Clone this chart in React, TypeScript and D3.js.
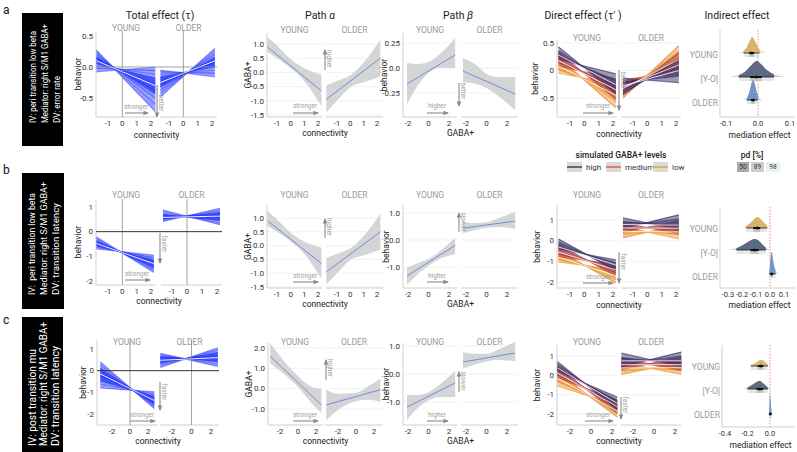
import React from 'react';
import * as d3 from 'd3';

type Pair = [number, number];

// ---------------------------------------------------------------- labels
const infoA = ['IV: peri transition low beta', 'Mediator: right S/M1 GABA+', 'DV: error rate'];
const infoB = ['IV:  peri transition low beta', 'Mediator: right S/M1 GABA+', 'DV: transition latency'];
const infoC = ['IV: post transition mu', 'Mediator: right S/M1 GABA+', 'DV: transition latency'];
const groups = ['YOUNG', '[Y-O]', 'OLDER'];
const gabaLevels = ['high', 'medium', 'low'];
const pdLevels = ['50', '89', '98'];

// tick values / labels
const ticksConn1 = [-1, 0, 1, 2];
const ticksConn2 = [-2, 0, 2];
const ticksGaba = [-2, 0, 2];
const ticksTotA = [-0.5, 0, 0.5];
const labsTotA = ['-0.5', '0.0', '0.5'];
const ticksInt = [-2, -1, 0, 1];
const labsInt = ['-2', '-1', '0', '1'];
const ticksAlphaAB = [-1.5, -1, -0.5, 0, 0.5, 1];
const labsAlphaAB = ['-1.5', '-1.0', '-0.5', '0.0', '0.5', '1.0'];
const ticksAlphaC = [-1, 0, 1, 2];
const labsAlphaC = ['-1.0', '0.0', '1.0', '2.0'];
const ticksBetaA = [-0.25, 0, 0.25];
const labsBetaA = ['-0.25', '0.0', '0.25'];
const ticksBetaBC = [-1, 0, 1];
const labsBetaBC = ['-1.0', '0.0', '1.0'];
const labsDirA = ['-0.5', '0', '0.5'];
const ticksMedA = [-0.1, 0, 0.1];
const labsMedA = ['-0.1', '0.0', '0.1'];
const ticksMedB = [-0.3, -0.2, -0.1, 0, 0.1];
const labsMedB = ['-0.3', '-0.2', '-0.1', '0.0', '0.1'];
const ticksMedC = [-0.4, -0.2, 0];
const labsMedC = ['-0.4', '-0.2', '0.0'];

// ---------------------------------------------------------------- total effect
// posterior draws, each [y at left end, y at right end]
const totAYoungX: Pair = [-1.8, 2.3];
const totAYoung: Pair[] = [[0.27, -0.72], [0.23, -0.6], [0.2, -0.5], [0.17, -0.44], [0.14, -0.38], [0.12, -0.33], [0.1, -0.28], [0.08, -0.24], [0.05, -0.18], [0.02, -0.12], [-0.02, -0.06], [-0.08, 0.0]];
const totAYoungMean: Pair = [0.1, -0.3];
const totAOlderX: Pair = [-1.6, 2.2];
const totAOlder: Pair[] = [[-0.48, 0.3], [-0.42, 0.25], [-0.37, 0.2], [-0.33, 0.16], [-0.29, 0.13], [-0.26, 0.1], [-0.23, 0.07], [-0.2, 0.04], [-0.16, 0.0], [-0.12, -0.05], [-0.08, -0.1], [-0.05, -0.16]];
const totAOlderMean: Pair = [-0.25, 0.1];

const totBYoungX: Pair = [-1.8, 2.2];
const totBYoung: Pair[] = [[-0.22, -1.65], [-0.3, -1.55], [-0.36, -1.47], [-0.42, -1.4], [-0.46, -1.33], [-0.5, -1.27], [-0.54, -1.2], [-0.58, -1.13], [-0.63, -1.05], [-0.7, -0.95]];
const totBYoungMean: Pair = [-0.48, -1.3];
const totBOlderX: Pair = [-1.6, 2.2];
const totBOlder: Pair[] = [[0.42, 0.95], [0.48, 0.85], [0.52, 0.78], [0.55, 0.72], [0.58, 0.67], [0.6, 0.63], [0.63, 0.58], [0.66, 0.52], [0.7, 0.45], [0.78, 0.35], [0.88, 0.28]];
const totBOlderMean: Pair = [0.58, 0.63];

const totCYoungX: Pair = [-3.3, 2.7];
const totCYoung: Pair[] = [[0.4, -1.75], [0.25, -1.65], [0.12, -1.57], [0.02, -1.5], [-0.08, -1.44], [-0.16, -1.38], [-0.25, -1.32], [-0.35, -1.25], [-0.48, -1.17], [-0.62, -1.08], [-0.8, -0.98]];
const totCYoungMean: Pair = [-0.15, -1.38];
const totCOlderX: Pair = [-3.2, 2.7];
const totCOlder: Pair[] = [[0.15, 1.05], [0.25, 0.95], [0.33, 0.85], [0.4, 0.77], [0.45, 0.7], [0.5, 0.64], [0.55, 0.57], [0.6, 0.5], [0.66, 0.42], [0.72, 0.32], [0.8, 0.2]];
const totCOlderMean: Pair = [0.48, 0.6];

// ---------------------------------------------------------------- path alpha (fit + 95% band)
const alphaYoungX = [-1.7, -1, 0, 1, 2.25];
const alphaYoungLo = [0.72, 0.5, 0.15, -0.3, -1.2];
const alphaYoungHi = [1.25, 0.95, 0.47, 0.15, -0.08];
const alphaYoungFit: Pair = [0.9, -0.65];
const alphaOlderX = [-1.8, -1, 0, 1, 2.25];
const alphaOlderLo = [-1.4, -1.0, -0.52, -0.35, -0.15];
const alphaOlderHi = [-0.45, -0.3, -0.1, 0.35, 1.15];
const alphaOlderFit: Pair = [-0.95, 0.5];

const alphaCYoungX = [-3.1, -2, 0, 1.5, 2.6];
const alphaCYoungLo = [1.25, 0.88, 0.08, -0.7, -1.2];
const alphaCYoungHi = [2.25, 1.6, 0.62, 0.1, 0.0];
const alphaCYoungFit: Pair = [1.6, -0.8];
const alphaCOlderX = [-3.3, -2, 0, 1.5, 2.7];
const alphaCOlderLo = [-1.55, -1.05, -0.62, -0.55, -0.65];
const alphaCOlderHi = [-0.05, -0.25, -0.2, 0.15, 0.5];
const alphaCOlderFit: Pair = [-0.8, -0.05];

// ---------------------------------------------------------------- path beta
const betaYoungX = [-2.1, -1, 0, 1, 2.6];
const betaOlderX = [-2.3, -1, 0, 1, 2.8];
const betaAYoungLo = [-0.36, -0.17, -0.05, 0.0, 0.0];
const betaAYoungHi = [0.05, 0.04, 0.06, 0.13, 0.3];
const betaAYoungFit: Pair = [-0.16, 0.13];
const betaAOlderLo = [-0.14, -0.16, -0.2, -0.27, -0.42];
const betaAOlderHi = [0.1, 0.03, -0.06, -0.09, -0.09];
const betaAOlderFit: Pair = [-0.03, -0.26];

const betaBYoungLo = [-1.67, -1.25, -0.95, -0.72, -0.52];
const betaBYoungHi = [-1.02, -0.85, -0.7, -0.45, 0.08];
const betaBYoungFit: Pair = [-1.33, -0.2];
const betaBOlderLo = [0.25, 0.38, 0.45, 0.48, 0.42];
const betaBOlderHi = [0.68, 0.63, 0.66, 0.78, 1.05];
const betaBOlderFit: Pair = [0.44, 0.7];

const betaCYoungLo = [-1.64, -1.2, -0.95, -0.82, -0.82];
const betaCYoungHi = [-0.75, -0.75, -0.65, -0.4, 0.12];
const betaCYoungFit: Pair = [-1.18, -0.32];
const betaCOlderLo = [0.2, 0.35, 0.45, 0.5, 0.45];
const betaCOlderHi = [0.78, 0.72, 0.72, 0.85, 1.15];
const betaCOlderFit: Pair = [0.43, 0.75];

// ---------------------------------------------------------------- direct effect (per simulated GABA+ level)
const dirAYoungX: Pair = [-1.8, 2.2];
const dirAYoungHigh: Pair[] = [[0.43, -0.42], [0.36, -0.33], [0.3, -0.26], [0.25, -0.18], [0.2, -0.06]];
const dirAYoungMed: Pair[] = [[0.33, -0.52], [0.26, -0.43], [0.2, -0.35], [0.14, -0.27], [0.08, -0.15]];
const dirAYoungLow: Pair[] = [[0.24, -0.68], [0.16, -0.56], [0.09, -0.45], [0.02, -0.36], [-0.05, -0.24]];
const dirAYoungMeans: Pair[] = [[0.28, -0.26], [0.18, -0.35], [0.08, -0.45]];
const dirAOlderX: Pair = [-1.7, 2.2];
const dirAOlderHigh: Pair[] = [[-0.42, 0.2], [-0.35, 0.1], [-0.28, 0.0], [-0.21, -0.1], [-0.14, -0.22]];
const dirAOlderMed: Pair[] = [[-0.45, 0.32], [-0.38, 0.22], [-0.31, 0.12], [-0.24, 0.03], [-0.16, -0.07]];
const dirAOlderLow: Pair[] = [[-0.5, 0.45], [-0.42, 0.35], [-0.35, 0.25], [-0.28, 0.15], [-0.2, 0.05]];
const dirAOlderMeans: Pair[] = [[-0.28, 0.0], [-0.3, 0.1], [-0.33, 0.2]];

const dirBYoungX: Pair = [-1.8, 2.2];
const dirBYoungHigh: Pair[] = [[0.08, -1.45], [-0.05, -1.33], [-0.18, -1.2], [-0.3, -1.07], [-0.42, -0.93]];
const dirBYoungMed: Pair[] = [[-0.2, -1.7], [-0.35, -1.56], [-0.5, -1.42], [-0.65, -1.28], [-0.78, -1.14]];
const dirBYoungLow: Pair[] = [[-0.48, -2.05], [-0.62, -1.9], [-0.78, -1.72], [-0.9, -1.55], [-1.03, -1.4]];
const dirBYoungMeans: Pair[] = [[-0.3, -1.18], [-0.55, -1.42], [-0.8, -1.7]];
const dirBOlderX: Pair = [-1.7, 2.2];
const dirBOlderHigh: Pair[] = [[0.6, 1.25], [0.7, 1.05], [0.8, 0.85], [0.92, 0.7], [1.1, 0.55]];
const dirBOlderMed: Pair[] = [[0.42, 0.95], [0.52, 0.78], [0.62, 0.62], [0.72, 0.48], [0.85, 0.35]];
const dirBOlderLow: Pair[] = [[0.15, 0.75], [0.3, 0.58], [0.42, 0.45], [0.55, 0.3], [0.68, 0.08]];
const dirBOlderMeans: Pair[] = [[0.78, 0.75], [0.62, 0.6], [0.45, 0.42]];

const dirCYoungX: Pair = [-3.2, 2.5];
const dirCYoungHigh: Pair[] = [[0.7, -1.75], [0.58, -1.6], [0.45, -1.45], [0.32, -1.3], [0.2, -1.12]];
const dirCYoungMed: Pair[] = [[0.42, -1.95], [0.3, -1.78], [0.15, -1.62], [0.02, -1.45], [-0.12, -1.3]];
const dirCYoungLow: Pair[] = [[0.15, -2.15], [0.0, -2.0], [-0.15, -1.85], [-0.3, -1.7], [-0.55, -1.55]];
const dirCYoungMeans: Pair[] = [[0.38, -1.45], [0.12, -1.62], [-0.14, -1.85]];
const dirCOlderX: Pair = [-3.1, 2.6];
const dirCOlderHigh: Pair[] = [[0.45, 1.2], [0.6, 1.0], [0.75, 0.8], [0.9, 0.62], [1.15, 0.45]];
const dirCOlderMed: Pair[] = [[0.3, 0.95], [0.42, 0.75], [0.55, 0.55], [0.7, 0.4], [0.9, 0.25]];
const dirCOlderLow: Pair[] = [[0.05, 0.7], [0.2, 0.55], [0.35, 0.4], [0.5, 0.25], [0.65, 0.05]];
const dirCOlderMeans: Pair[] = [[0.75, 0.75], [0.55, 0.55], [0.38, 0.4]];

// ---------------------------------------------------------------- indirect effect
// density outline [effect, relative density]; intervals [median, lo50, hi50, lo95, hi95]
const medAYoung: Pair[] = [[-0.07, 0], [-0.05, 0.1], [-0.035, 0.35], [-0.025, 0.8], [-0.018, 1], [-0.01, 0.75], [0, 0.35], [0.015, 0.1], [0.035, 0]];
const medAYO: Pair[] = [[-0.09, 0], [-0.06, 0.12], [-0.04, 0.35], [-0.02, 0.75], [-0.005, 1], [0.01, 0.8], [0.03, 0.4], [0.055, 0.12], [0.09, 0]];
const medAOlder: Pair[] = [[-0.045, 0], [-0.035, 0.1], [-0.027, 0.4], [-0.02, 0.85], [-0.015, 1], [-0.01, 0.8], [-0.003, 0.35], [0.005, 0.1], [0.015, 0]];
const medAInt = [[-0.02, -0.028, -0.012, -0.045, 0.005], [-0.005, -0.025, 0.012, -0.06, 0.05], [-0.015, -0.022, -0.01, -0.035, 0.0]];

const medBYoung: Pair[] = [[-0.22, 0], [-0.18, 0.12], [-0.14, 0.45], [-0.11, 0.85], [-0.09, 1], [-0.07, 0.85], [-0.04, 0.45], [-0.01, 0.1], [0.01, 0]];
const medBYO: Pair[] = [[-0.3, 0], [-0.25, 0.12], [-0.2, 0.4], [-0.15, 0.8], [-0.11, 1], [-0.08, 0.85], [-0.05, 0.45], [-0.02, 0.12], [0.01, 0]];
const medBOlder: Pair[] = [[-0.015, 0], [-0.005, 0.15], [0.002, 0.55], [0.008, 0.95], [0.013, 1], [0.02, 0.7], [0.03, 0.35], [0.045, 0.1], [0.06, 0]];
const medBInt = [[-0.09, -0.12, -0.07, -0.17, -0.02], [-0.11, -0.14, -0.08, -0.24, -0.03], [0.012, 0.005, 0.02, -0.005, 0.04]];

const medCYoung: Pair[] = [[-0.2, 0], [-0.16, 0.2], [-0.12, 0.6], [-0.09, 0.95], [-0.07, 1], [-0.05, 0.75], [-0.03, 0.4], [-0.01, 0.1], [0.005, 0]];
const medCYO: Pair[] = [[-0.25, 0], [-0.2, 0.2], [-0.15, 0.6], [-0.11, 0.95], [-0.09, 1], [-0.06, 0.7], [-0.03, 0.35], [-0.01, 0.1], [0.005, 0]];
const medCOlder: Pair[] = [[-0.012, 0], [-0.007, 0.2], [-0.003, 0.7], [0, 1], [0.004, 0.8], [0.008, 0.45], [0.013, 0.2], [0.02, 0.05], [0.03, 0]];
const medCInt = [[-0.08, -0.11, -0.06, -0.17, -0.02], [-0.09, -0.12, -0.06, -0.2, -0.02], [0.002, -0.002, 0.006, -0.008, 0.015]];

// ---------------------------------------------------------------- styles
const FONT = 'Roboto, "DejaVu Sans", Arial, sans-serif';
const AXC = '#cfcfcf';
const TXT = '#333';
const STRIP = '#9a9a9a';
const ARROW = '#8a8a8a';
const TICK_FS = 8;
const BLUE_FILL = '#1e30ff';
const BLUE_LINES = ['#0f1ff0', '#3344ff'];
const LEVEL_STYLE = [
  { fill: '#3b3468', strokes: ['#25265a', '#4b3a70', '#6a4478'] },
  { fill: '#b9404a', strokes: ['#8e3a62', '#c2413f', '#dc5a34'] },
  { fill: '#ec9c32', strokes: ['#e4782a', '#ee9a30', '#f4c443'] },
];
const LEGEND_LINES = ['#3c3f6e', '#e05a5a', '#e3a33a'];
const PD_FILLS = ['#a9a9a9', '#cdcdcd', '#eaf0f0'];
const GROUP_FILLS = ['#d9b46a', '#5d6b82', '#7295c4'];

const lin = (d0: number, d1: number, r0: number, r1: number) =>
  d3.scaleLinear().domain([d0, d1]).range([r0, r1]);

// ---------------------------------------------------------------- pieces
function Frame({ c }: any) {
  const sides = [c.young, c.older];
  const mid = (c.top + c.bottom) / 2;
  return (
    <g>
      {c.grid && sides.map((s: any, i: number) => c.yTicks.map((t: number) => (
        <line key={`g${i}_${t}`} x1={s.x0} x2={s.x1} y1={c.ys(t)} y2={c.ys(t)} stroke="#ededed" strokeWidth={0.8} />
      )))}
      <line x1={c.young.x0} x2={c.young.x0} y1={c.top} y2={c.bottom} stroke={AXC} />
      {sides.map((s: any, i: number) => (
        <line key={`b${i}`} x1={s.x0} x2={s.x1} y1={c.bottom} y2={c.bottom} stroke={AXC} />
      ))}
      {c.yTicks.map((t: number, i: number) => (
        <text key={`y${i}`} x={c.young.x0 - 3} y={c.ys(t)} dy="0.34em" textAnchor="end" fontSize={TICK_FS} fill={TXT}>{c.yLabs[i]}</text>
      ))}
      {sides.map((s: any, i: number) => c.xTicks.map((t: number) => (
        <text key={`x${i}_${t}`} x={s.sc(t)} y={c.bottom + 6} dy="0.34em" textAnchor="middle" fontSize={TICK_FS} fill={TXT}>{t}</text>
      )))}
      {[groups[0], groups[2]].map((g, i) => (
        <text key={g} x={(sides[i].x0 + sides[i].x1) / 2} y={c.strip} dy="0.35em" textAnchor="middle" fontSize={8.5} fill={STRIP}>{g}</text>
      ))}
      <text transform={`translate(${c.yTitleX},${mid}) rotate(-90)`} dy="0.35em" textAnchor="middle" fontSize={8.5} fill="#222">{c.yTitle}</text>
      <text x={(c.young.x0 + c.older.x1) / 2} y={c.xTitleY} dy="0.35em" textAnchor="middle" fontSize={8.5} fill="#222">{c.xTitle}</text>
    </g>
  );
}

function Fan({ lines, dom, xs, ys, fill, strokes, fillOp, coreOp, lineOp }: any) {
  const at = (l: Pair, x: number) => l[0] + (l[1] - l[0]) * (x - dom[0]) / (dom[1] - dom[0]);
  const grid = d3.range(0, 41).map((i) => dom[0] + (dom[1] - dom[0]) * i / 40);
  const envOf = (ls: Pair[]) => d3.area<number>()
    .x((x) => xs(x))
    .y0((x) => ys(d3.min(ls, (l) => at(l, x)) as number))
    .y1((x) => ys(d3.max(ls, (l) => at(l, x)) as number))(grid) || '';
  const n = lines.length;
  const k = Math.floor(n / 4);
  const core = (lines as Pair[]).slice(k, n - k);
  return (
    <g>
      <path d={envOf(lines)} fill={fill} opacity={fillOp} />
      <path d={envOf(core)} fill={fill} opacity={coreOp} />
      {(lines as Pair[]).map((l, i) => (
        <line key={i} x1={xs(dom[0])} y1={ys(l[0])} x2={xs(dom[1])} y2={ys(l[1])}
          stroke={strokes[i % strokes.length]} strokeWidth={1.2} opacity={lineOp} />
      ))}
    </g>
  );
}

function MeanLine({ m, dom, xs, ys, op = 0.9 }: any) {
  return <line x1={xs(dom[0])} y1={ys(m[0])} x2={xs(dom[1])} y2={ys(m[1])} stroke="#ffffff" strokeWidth={1} opacity={op} />;
}

function Ribbon({ x, lo, hi, fit, xs, ys }: any) {
  const area = d3.area<number>()
    .x((v) => xs(v))
    .y0((_, i) => ys(lo[i]))
    .y1((_, i) => ys(hi[i]))
    .curve(d3.curveMonotoneX);
  return (
    <g>
      <path d={area(x) || ''} fill="#d3d3d3" opacity={0.95} />
      <line x1={xs(x[0])} y1={ys(fit[0])} x2={xs(x[x.length - 1])} y2={ys(fit[1])} stroke="#6d8ce6" strokeWidth={1} />
    </g>
  );
}

function Arrow({ x1, y1, x2, y2, label, lx, ly, vert }: any) {
  return (
    <g>
      <line x1={x1} y1={y1} x2={x2} y2={y2} stroke={ARROW} strokeWidth={1.1} markerEnd="url(#ah)" />
      {vert ? (
        <text transform={`translate(${lx},${ly}) rotate(90)`} dy="0.35em" textAnchor="middle" fontSize={6.5} fill="#a0a0a0">{label}</text>
      ) : (
        <text x={lx} y={ly} textAnchor="middle" fontSize={6.5} fill="#a0a0a0">{label}</text>
      )}
    </g>
  );
}

function InfoBox({ x, y, w, h, lines, lx, start, lens, fs }: any) {
  return (
    <g>
      <rect x={x} y={y} width={w} height={h} fill="#000" />
      {lines.map((t: string, i: number) => (
        <text key={i} transform={`translate(${lx[i]},${start}) rotate(-90)`} dy="0.35em" fontSize={fs} fill="#fff"
          textLength={lens[i]} lengthAdjust="spacingAndGlyphs" xmlSpace="preserve">{t}</text>
      ))}
    </g>
  );
}

function HalfEye({ pts, base, h, color, xs, iv, id }: any) {
  const area = d3.area<Pair>().x((d) => xs(d[0])).y0(base).y1((d) => base - d[1] * h).curve(d3.curveMonotoneX);
  const [med, l50, h50, l95, h95] = iv;
  const d = area(pts) || '';
  return (
    <g>
      <clipPath id={id}><rect x={xs(l95)} y={base - h - 2} width={xs(h95) - xs(l95)} height={h + 4} /></clipPath>
      <path d={d} fill={color} opacity={0.35} />
      <path d={d} fill={color} clipPath={`url(#${id})`} />
      <rect x={xs(l95)} y={base + 0.5} width={xs(h95) - xs(l95)} height={3.5} fill="#e2eaea" />
      <rect x={xs(l50)} y={base + 0.5} width={xs(h50) - xs(l50)} height={3.5} fill="#c2c6c6" />
      <line x1={xs(l95)} x2={xs(h95)} y1={base} y2={base} stroke="#111" strokeWidth={0.8} />
      <line x1={xs(l50)} x2={xs(h50)} y1={base} y2={base} stroke="#111" strokeWidth={2} />
      <circle cx={xs(med)} cy={base} r={1.5} fill="#111" />
    </g>
  );
}

function Indirect({ c, dens, ints, id }: any) {
  return (
    <g>
      <line x1={c.x0} x2={c.x0} y1={c.top} y2={c.bottom} stroke={AXC} />
      <line x1={c.x0} x2={c.x1} y1={c.bottom} y2={c.bottom} stroke={AXC} />
      <line x1={c.xs(0)} x2={c.xs(0)} y1={c.top} y2={c.bottom} stroke="#e46a6a" strokeWidth={0.8} strokeDasharray="1.5,1.5" />
      {dens.map((p: Pair[], i: number) => (
        <HalfEye key={i} pts={p} base={c.bases[i]} h={c.heights[i]} color={GROUP_FILLS[i]} xs={c.xs} iv={ints[i]} id={`${id}${i}`} />
      ))}
      {groups.map((g, i) => (
        <text key={g} x={c.x0 - 2} y={c.labY[i]} dy="0.35em" textAnchor="end" fontSize={8.5} fill={STRIP}>{g}</text>
      ))}
      {c.ticks.map((t: number, i: number) => (
        <text key={i} x={c.xs(t)} y={c.bottom + 6} dy="0.35em" textAnchor="middle" fontSize={7.5} fill={TXT}>{c.labs[i]}</text>
      ))}
      <text x={(c.x0 + c.x1) / 2 + 2} y={c.titleY} dy="0.35em" textAnchor="middle" fontSize={8.5} fill="#222">mediation effect</text>
    </g>
  );
}

function TotalPanel({ c, yl, ym, yd, ol, om, od, zeroDark }: any) {
  const zc = zeroDark ? '#333' : '#8c8c8c';
  return (
    <g>
      <Frame c={c} />
      <Fan lines={yl} dom={yd} xs={c.young.sc} ys={c.ys} fill={BLUE_FILL} strokes={BLUE_LINES} fillOp={0.45} coreOp={0.65} lineOp={0.45} />
      <Fan lines={ol} dom={od} xs={c.older.sc} ys={c.ys} fill={BLUE_FILL} strokes={BLUE_LINES} fillOp={0.45} coreOp={0.65} lineOp={0.45} />
      <MeanLine m={ym} dom={yd} xs={c.young.sc} ys={c.ys} />
      <MeanLine m={om} dom={od} xs={c.older.sc} ys={c.ys} />
      {[c.young, c.older].map((s: any, i: number) => (
        <line key={i} x1={s.sc(0)} x2={s.sc(0)} y1={c.top} y2={c.bottom} stroke="#8c8c8c" strokeWidth={0.8} />
      ))}
      <line x1={c.young.x0} x2={c.older.x1} y1={c.ys(0)} y2={c.ys(0)} stroke={zc} strokeWidth={zeroDark ? 1 : 0.8} />
    </g>
  );
}

function DirectPanel({ c, young, yd, ymeans, older, od, omeans }: any) {
  return (
    <g>
      <Frame c={c} />
      {[2, 1, 0].map((k) => (
        <Fan key={`y${k}`} lines={young[k]} dom={yd} xs={c.young.sc} ys={c.ys} fill={LEVEL_STYLE[k].fill}
          strokes={LEVEL_STYLE[k].strokes} fillOp={0.5} coreOp={0.5} lineOp={0.65} />
      ))}
      {[2, 1, 0].map((k) => (
        <Fan key={`o${k}`} lines={older[k]} dom={od} xs={c.older.sc} ys={c.ys} fill={LEVEL_STYLE[k].fill}
          strokes={LEVEL_STYLE[k].strokes} fillOp={0.5} coreOp={0.5} lineOp={0.65} />
      ))}
      {ymeans.map((m: Pair, i: number) => <MeanLine key={`ym${i}`} m={m} dom={yd} xs={c.young.sc} ys={c.ys} op={0.8} />)}
      {omeans.map((m: Pair, i: number) => <MeanLine key={`om${i}`} m={m} dom={od} xs={c.older.sc} ys={c.ys} op={0.8} />)}
    </g>
  );
}

// ---------------------------------------------------------------- app
export default function App() {
  // ---- layouts, row a
  const totA = {
    young: { x0: 96, x1: 156, sc: lin(-1, 2, 108, 151) }, older: { x0: 160, x1: 217, sc: lin(-1, 2, 169, 212) },
    ys: lin(-0.5, 0.5, 98, 36), top: 31, bottom: 117, strip: 28, xTicks: ticksConn1, yTicks: ticksTotA, yLabs: labsTotA,
    yTitle: 'behavior', yTitleX: 78, xTitle: 'connectivity', xTitleY: 135,
  };
  const alA = {
    young: { x0: 267, x1: 322, sc: lin(-1, 2, 277, 318) }, older: { x0: 326, x1: 383, sc: lin(-1, 2, 337, 377) },
    ys: lin(-1.5, 1, 115, 44), top: 33, bottom: 117, strip: 30, xTicks: ticksConn1, yTicks: ticksAlphaAB, yLabs: labsAlphaAB,
    yTitle: 'GABA+', yTitleX: 248, xTitle: 'connectivity', xTitleY: 133, grid: true,
  };
  const beA = {
    young: { x0: 403, x1: 457, sc: lin(-2, 2, 408, 449) }, older: { x0: 461, x1: 518, sc: lin(-2, 2, 466, 507) },
    ys: lin(-0.25, 0.25, 93, 43), top: 33, bottom: 117, strip: 30, xTicks: ticksGaba, yTicks: ticksBetaA, yLabs: labsBetaA,
    yTitle: 'behavior', yTitleX: 384, xTitle: 'GABA+', xTitleY: 133, grid: true,
  };
  const diA = {
    young: { x0: 557, x1: 617, sc: lin(-1, 2, 570, 613) }, older: { x0: 621, x1: 681, sc: lin(-1, 2, 633, 676) },
    ys: lin(-0.5, 0.5, 98, 43), top: 40, bottom: 117, strip: 38, xTicks: ticksConn1, yTicks: ticksTotA, yLabs: labsDirA,
    yTitle: 'behavior', yTitleX: 535, xTitle: 'connectivity', xTitleY: 134, grid: true,
  };
  const inA = {
    x0: 720, x1: 795, xs: lin(-0.1, 0.1, 726, 790), top: 30, bottom: 117, ticks: ticksMedA, labs: labsMedA,
    bases: [53, 77, 100], heights: [16, 16, 20], labY: [55, 79, 103], titleY: 135,
  };
  // ---- row b
  const totB = {
    young: { x0: 96, x1: 156, sc: lin(-1, 2, 108, 151) }, older: { x0: 161, x1: 222, sc: lin(-1, 2, 172, 217) },
    ys: lin(-2, 1, 281, 207), top: 199, bottom: 285, strip: 195, xTicks: ticksConn1, yTicks: ticksInt, yLabs: labsInt,
    yTitle: 'behavior', yTitleX: 78, xTitle: 'connectivity', xTitleY: 301,
  };
  const alB = { ...alA, ys: lin(-1.5, 1, 287, 218), top: 205, bottom: 288, strip: 195, xTitleY: 304 };
  const beB = {
    ...beA, ys: lin(-1, 1, 267, 213), top: 205, bottom: 288, strip: 195, yTicks: ticksBetaBC, yLabs: labsBetaBC,
    yTitleX: 386, xTitleY: 304,
  };
  const diB = {
    ...diA, ys: lin(-2, 1, 282, 220), top: 205, bottom: 288, strip: 195, yTicks: ticksInt, yLabs: labsInt,
    yTitleX: 537, xTitleY: 305,
  };
  const inB = {
    x0: 720, x1: 795, xs: lin(-0.3, 0.1, 728, 784), top: 207, bottom: 288, ticks: ticksMedB, labs: labsMedB,
    bases: [228, 250, 274], heights: [11, 11, 22], labY: [229, 253, 277], titleY: 305,
  };
  // ---- row c
  const totC = {
    young: { x0: 97, x1: 157, sc: lin(-2, 2, 112, 148) }, older: { x0: 160, x1: 219, sc: lin(-2, 2, 172, 211) },
    ys: lin(-2, 1, 414, 349), top: 340, bottom: 425, strip: 342, xTicks: ticksConn2, yTicks: ticksInt, yLabs: labsInt,
    yTitle: 'behavior', yTitleX: 83, xTitle: 'connectivity', xTitleY: 441,
  };
  const alC = {
    young: { x0: 268, x1: 322, sc: lin(-2, 2, 280, 316) }, older: { x0: 325, x1: 383, sc: lin(-2, 2, 338, 374) },
    ys: lin(-1, 2, 409, 348), top: 343, bottom: 425, strip: 342, xTicks: ticksConn2, yTicks: ticksAlphaC, yLabs: labsAlphaC,
    yTitle: 'GABA+', yTitleX: 249, xTitle: 'connectivity', xTitleY: 441, grid: true,
  };
  const beC = {
    ...beA, ys: lin(-1, 1, 402, 346), top: 343, bottom: 425, strip: 342, yTicks: ticksBetaBC, yLabs: labsBetaBC,
    yTitleX: 386, xTitleY: 441,
  };
  const diC = {
    young: { x0: 557, x1: 617, sc: lin(-2, 2, 570, 612) }, older: { x0: 621, x1: 681, sc: lin(-2, 2, 633, 675) },
    ys: lin(-2, 1, 414, 356), top: 345, bottom: 425, strip: 342, xTicks: ticksConn2, yTicks: ticksInt, yLabs: labsInt,
    yTitle: 'behavior', yTitleX: 537, xTitle: 'connectivity', xTitleY: 441, grid: true,
  };
  const inC = {
    x0: 722, x1: 795, xs: lin(-0.4, 0, 725, 770), top: 345, bottom: 427, ticks: ticksMedC, labs: labsMedC,
    bases: [366, 389, 414], heights: [6, 8, 20], labY: [367, 391, 415], titleY: 445,
  };

  return (
    <svg width={797} height={452} fontFamily={FONT}
      style={{ position: 'absolute', left: 0, top: 0, background: '#fff', display: 'block' }}>
      <defs>
        <marker id="ah" viewBox="0 0 6 6" refX="5" refY="3" markerWidth="5" markerHeight="5" orient="auto">
          <path d="M0,0.5L6,3L0,5.5Z" fill={ARROW} />
        </marker>
      </defs>

      {/* titles */}
      <text x={160} y={19} textAnchor="middle" fontSize={10.5} fill="#222">Total effect (τ)</text>
      <text x={320} y={19} textAnchor="middle" fontSize={10.5} fill="#222">Path <tspan fontStyle="italic">α</tspan></text>
      <text x={458} y={19} textAnchor="middle" fontSize={10.5} fill="#222">Path <tspan fontStyle="italic">β</tspan></text>
      <text x={583} y={19} textAnchor="middle" fontSize={10.5} fill="#222">Direct effect (τ' )</text>
      <text x={737} y={19} textAnchor="middle" fontSize={10.5} fill="#222">Indirect effect</text>

      {/* panel letters */}
      <text x={3} y={14} fontSize={12} fill="#111">a</text>
      <text x={3} y={174} fontSize={12} fill="#111">b</text>
      <text x={3} y={324} fontSize={12} fill="#111">c</text>

      <InfoBox x={22} y={13} w={41} h={133} lines={infoA} lx={[33, 45, 57]} start={123} lens={[92, 99, 47]} fs={8.5} />
      <InfoBox x={22} y={173} w={42} h={136} lines={infoB} lx={[32, 44, 56]} start={295} lens={[102, 113, 92]} fs={9.5} />
      <InfoBox x={22} y={317} w={41} h={135} lines={infoC} lx={[32, 43.5, 55]} start={446} lens={[97, 124, 100]} fs={10.5} />

      {/* ---------------- row a */}
      <TotalPanel c={totA} yl={totAYoung} ym={totAYoungMean} yd={totAYoungX} ol={totAOlder} om={totAOlderMean} od={totAOlderX} />
      <Arrow x1={125} y1={113} x2={148} y2={113} label="stronger" lx={136} ly={109} />
      <Arrow x1={157} y1={85} x2={157} y2={117} label="better" lx={161} ly={103} vert />

      <Frame c={alA} />
      <Ribbon x={alphaYoungX} lo={alphaYoungLo} hi={alphaYoungHi} fit={alphaYoungFit} xs={alA.young.sc} ys={alA.ys} />
      <Ribbon x={alphaOlderX} lo={alphaOlderLo} hi={alphaOlderHi} fit={alphaOlderFit} xs={alA.older.sc} ys={alA.ys} />
      <Arrow x1={293} y1={113} x2={318} y2={113} label="stronger" lx={305} ly={108} />
      <Arrow x1={325} y1={70} x2={325} y2={50} label="higher" lx={329} ly={59} vert />

      <Frame c={beA} />
      <Ribbon x={betaYoungX} lo={betaAYoungLo} hi={betaAYoungHi} fit={betaAYoungFit} xs={beA.young.sc} ys={beA.ys} />
      <Ribbon x={betaOlderX} lo={betaAOlderLo} hi={betaAOlderHi} fit={betaAOlderFit} xs={beA.older.sc} ys={beA.ys} />
      <Arrow x1={427} y1={113} x2={448} y2={113} label="higher" lx={437} ly={108} />
      <Arrow x1={459} y1={83} x2={459} y2={106} label="better" lx={463} ly={91} vert />

      <DirectPanel c={diA} young={[dirAYoungHigh, dirAYoungMed, dirAYoungLow]} yd={dirAYoungX} ymeans={dirAYoungMeans}
        older={[dirAOlderHigh, dirAOlderMed, dirAOlderLow]} od={dirAOlderX} omeans={dirAOlderMeans} />
      <Arrow x1={583} y1={113} x2={613} y2={113} label="stronger" lx={598} ly={108} />
      <Arrow x1={619} y1={70} x2={619} y2={110} label="better" lx={623} ly={80} vert />

      <Indirect c={inA} dens={[medAYoung, medAYO, medAOlder]} ints={medAInt} id="ca" />

      {/* ---------------- legends */}
      <text x={621} y={158} textAnchor="middle" fontSize={8.5} fontWeight={500} fill="#222">simulated GABA+ levels</text>
      {gabaLevels.map((g, i) => {
        const bx = [567, 606, 653][i];
        return (
          <g key={g}>
            <rect x={bx} y={162} width={15} height={10} fill="#dadada" />
            <line x1={bx} x2={bx + 15} y1={167} y2={167} stroke={LEGEND_LINES[i]} strokeWidth={1.5} />
            <text x={bx + 19} y={167} dy="0.35em" fontSize={8} fill={TXT}>{g}</text>
          </g>
        );
      })}
      <text x={752} y={158} textAnchor="middle" fontSize={8.5} fontWeight={500} fill="#222">pd [%]</text>
      {pdLevels.map((p, i) => {
        const bx = [737, 751, 766][i];
        const bw = [12, 13, 14][i];
        return (
          <g key={p}>
            <rect x={bx} y={162} width={bw} height={10} fill={PD_FILLS[i]} />
            <text x={bx + bw / 2} y={167} dy="0.35em" textAnchor="middle" fontSize={6.5} fill={TXT}>{p}</text>
          </g>
        );
      })}

      {/* ---------------- row b */}
      <TotalPanel c={totB} yl={totBYoung} ym={totBYoungMean} yd={totBYoungX} ol={totBOlder} om={totBOlderMean} od={totBOlderX} zeroDark />
      <Arrow x1={125} y1={280} x2={150} y2={280} label="stronger" lx={137} ly={276} />
      <Arrow x1={160} y1={233} x2={160} y2={263} label="faster" lx={164} ly={244} vert />

      <Frame c={alB} />
      <Ribbon x={alphaYoungX} lo={alphaYoungLo} hi={alphaYoungHi} fit={alphaYoungFit} xs={alB.young.sc} ys={alB.ys} />
      <Ribbon x={alphaOlderX} lo={alphaOlderLo} hi={alphaOlderHi} fit={alphaOlderFit} xs={alB.older.sc} ys={alB.ys} />
      <Arrow x1={293} y1={282} x2={318} y2={282} label="stronger" lx={305} ly={278} />
      <Arrow x1={325} y1={238} x2={325} y2={219} label="higher" lx={329} ly={227} vert />

      <Frame c={beB} />
      <Ribbon x={betaYoungX} lo={betaBYoungLo} hi={betaBYoungHi} fit={betaBYoungFit} xs={beB.young.sc} ys={beB.ys} />
      <Ribbon x={betaOlderX} lo={betaBOlderLo} hi={betaBOlderHi} fit={betaBOlderFit} xs={beB.older.sc} ys={beB.ys} />
      <Arrow x1={427} y1={282} x2={448} y2={282} label="higher" lx={437} ly={278} />
      <Arrow x1={459} y1={232} x2={459} y2={213} label="slower" lx={463} ly={222} vert />

      <DirectPanel c={diB} young={[dirBYoungHigh, dirBYoungMed, dirBYoungLow]} yd={dirBYoungX} ymeans={dirBYoungMeans}
        older={[dirBOlderHigh, dirBOlderMed, dirBOlderLow]} od={dirBOlderX} omeans={dirBOlderMeans} />
      <Arrow x1={583} y1={283} x2={613} y2={283} label="stronger" lx={598} ly={279} />
      <Arrow x1={619} y1={252} x2={619} y2={283} label="faster" lx={623} ly={262} vert />

      <Indirect c={inB} dens={[medBYoung, medBYO, medBOlder]} ints={medBInt} id="cb" />

      {/* ---------------- row c */}
      <TotalPanel c={totC} yl={totCYoung} ym={totCYoungMean} yd={totCYoungX} ol={totCOlder} om={totCOlderMean} od={totCOlderX} zeroDark />
      <Arrow x1={130} y1={421} x2={155} y2={421} label="stronger" lx={142} ly={417} />
      <Arrow x1={160} y1={382} x2={160} y2={410} label="faster" lx={164} ly={392} vert />

      <Frame c={alC} />
      <Ribbon x={alphaCYoungX} lo={alphaCYoungLo} hi={alphaCYoungHi} fit={alphaCYoungFit} xs={alC.young.sc} ys={alC.ys} />
      <Ribbon x={alphaCOlderX} lo={alphaCOlderLo} hi={alphaCOlderHi} fit={alphaCOlderFit} xs={alC.older.sc} ys={alC.ys} />
      <Arrow x1={293} y1={421} x2={318} y2={421} label="stronger" lx={305} ly={417} />
      <Arrow x1={326} y1={380} x2={326} y2={360} label="higher" lx={330} ly={368} vert />

      <Frame c={beC} />
      <Ribbon x={betaYoungX} lo={betaCYoungLo} hi={betaCYoungHi} fit={betaCYoungFit} xs={beC.young.sc} ys={beC.ys} />
      <Ribbon x={betaOlderX} lo={betaCOlderLo} hi={betaCOlderHi} fit={betaCOlderFit} xs={beC.older.sc} ys={beC.ys} />
      <Arrow x1={427} y1={421} x2={448} y2={421} label="higher" lx={437} ly={417} />
      <Arrow x1={459} y1={392} x2={459} y2={372} label="slower" lx={463} ly={381} vert />

      <DirectPanel c={diC} young={[dirCYoungHigh, dirCYoungMed, dirCYoungLow]} yd={dirCYoungX} ymeans={dirCYoungMeans}
        older={[dirCOlderHigh, dirCOlderMed, dirCOlderLow]} od={dirCOlderX} omeans={dirCOlderMeans} />
      <Arrow x1={585} y1={421} x2={613} y2={421} label="stronger" lx={598} ly={417} />
      <Arrow x1={621} y1={397} x2={621} y2={419} label="faster" lx={625} ly={405} vert />

      <Indirect c={inC} dens={[medCYoung, medCYO, medCOlder]} ints={medCInt} id="cc" />
    </svg>
  );
}
